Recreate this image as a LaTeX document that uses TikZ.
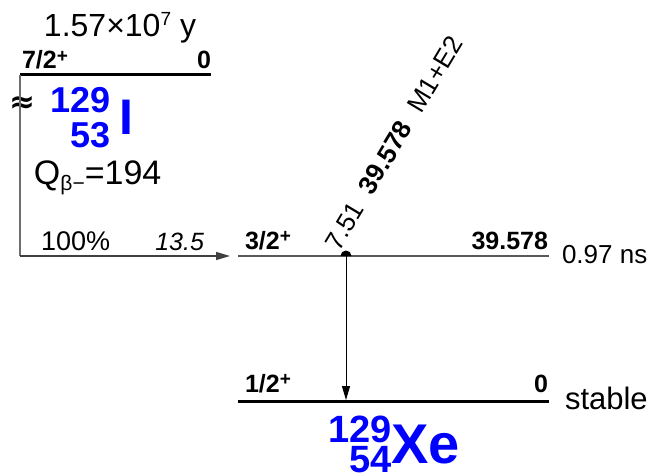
\documentclass[tikz,border=0pt]{standalone}
\usepackage{fontspec}
\setmainfont{Liberation Sans}
\newfontfamily\djvfont{DejaVu Sans}
\usetikzlibrary{arrows.meta}
\definecolor{nucblue}{RGB}{0,0,255}
\definecolor{feedgray}{RGB}{110,110,110}
\newcommand{\plussup}{\raisebox{6.5pt}{\fontsize{19}{19}\selectfont\bfseries +}}
\begin{document}
\begin{tikzpicture}[x=1pt,y=-1pt,
  every node/.style={inner sep=0pt, outer sep=0pt},
  lvlthick/.style={line width=3pt, black},
  lvlthin/.style={line width=1.4pt, black!65},
  feed/.style={line width=1.3pt, feedgray},
  gam/.style={line width=1pt, black},
  spinlbl/.style={font=\fontsize{25}{25}\selectfont\bfseries, anchor=base west},
  enlbl/.style={font=\fontsize{25}{25}\selectfont\bfseries, anchor=base east},
  txt/.style={font=\fontsize{26}{26}\selectfont},
  nucnum/.style={font=\fontsize{36}{36}\selectfont\bfseries, text=nucblue, anchor=base east},
  nucsym/.style={font=\fontsize{54}{54}\selectfont\bfseries, text=nucblue, anchor=base west},
  tip/.style={-{Triangle[length=14pt,width=8pt]}}
]
\useasboundingbox (0,0) rectangle (651,476);

% ---- 129I level ----
\coordinate (IL) at (20,75);
\coordinate (IR) at (211,75);
\draw[lvlthick] (IL) -- (IR);
\node[anchor=base, font=\fontsize{32}{32}\selectfont] (hl) at (120,37)
  {1.57×10\raisebox{11pt}{\fontsize{19}{19}\selectfont 7} y};
\node[spinlbl] (ispin) at (22,69) {7/2\plussup};
\node[enlbl] (ien) at (211,69) {0};
\node[font=\fontsize{31}{31}\selectfont\djvfont\bfseries] (approx) at (22,104) {≈};
\node[nucnum] (ia) at (111,113) {129};
\node[nucnum] (iz) at (111,148) {53};
\node[nucsym, font=\fontsize{50}{50}\selectfont\bfseries] (isym) at (119,135) {I};
\node[anchor=base west, font=\fontsize{34}{34}\selectfont] (q) at (34,185)
  {Q\raisebox{-6pt}{\fontsize{21}{21}\selectfont β−}=194};

% ---- beta feed ----
\coordinate (fc) at (20,256);
\coordinate (fe) at (230,256);
\draw[feed] (IL) -- (fc);
\draw[feed, black!75, tip] (fc) -- (fe);
\node[anchor=base west, font=\fontsize{27}{27}\selectfont] (br) at (41,251) {100\%};
\node[anchor=base east, font=\fontsize{25}{25}\selectfont\itshape] (lg) at (204,251) {13.5};

% ---- 3/2+ level ----
\coordinate (AL) at (238,256);
\coordinate (AR) at (549,256);
\draw[lvlthin] (AL) -- (AR);
\node[spinlbl] (aspin) at (245,249) {3/2\plussup};
\node[enlbl] (aen) at (548,249) {39.578};
\node[txt, anchor=base west] (alife) at (562,263) {0.97 ns};

% ---- ground level ----
\coordinate (GL) at (238,401);
\coordinate (GR) at (549,401);
\draw[lvlthick] (GL) -- (GR);
\node[spinlbl] (gspin) at (245,392) {1/2\plussup};
\node[enlbl] (gen) at (548,392) {0};
\node[anchor=base west, font=\fontsize{31}{31}\selectfont] (gst) at (565,409) {stable};
\node[nucnum, font=\fontsize{38}{38}\selectfont\bfseries] (xa) at (392,442) {129};
\node[nucnum, font=\fontsize{38}{38}\selectfont\bfseries] (xz) at (392,472) {54};
\node[nucsym, font=\fontsize{56}{56}\selectfont\bfseries] (xsym) at (391,463) {Xe};

% ---- gamma ----
\coordinate (gt) at (346,256);
\coordinate (gb) at (346,400);
\fill[black] (340.5,256) arc[start angle=180, end angle=360, radius=5.5] -- cycle;
\draw[gam, tip] (gt) -- (gb);
\node[rotate=59, anchor=base west, font=\fontsize{26}{26}\selectfont] (glbl) at (339,252)
  {7.51\hspace{0.55em}\textbf{39.578}\hspace{0.6em}M1+E2};
\end{tikzpicture}
\end{document}
